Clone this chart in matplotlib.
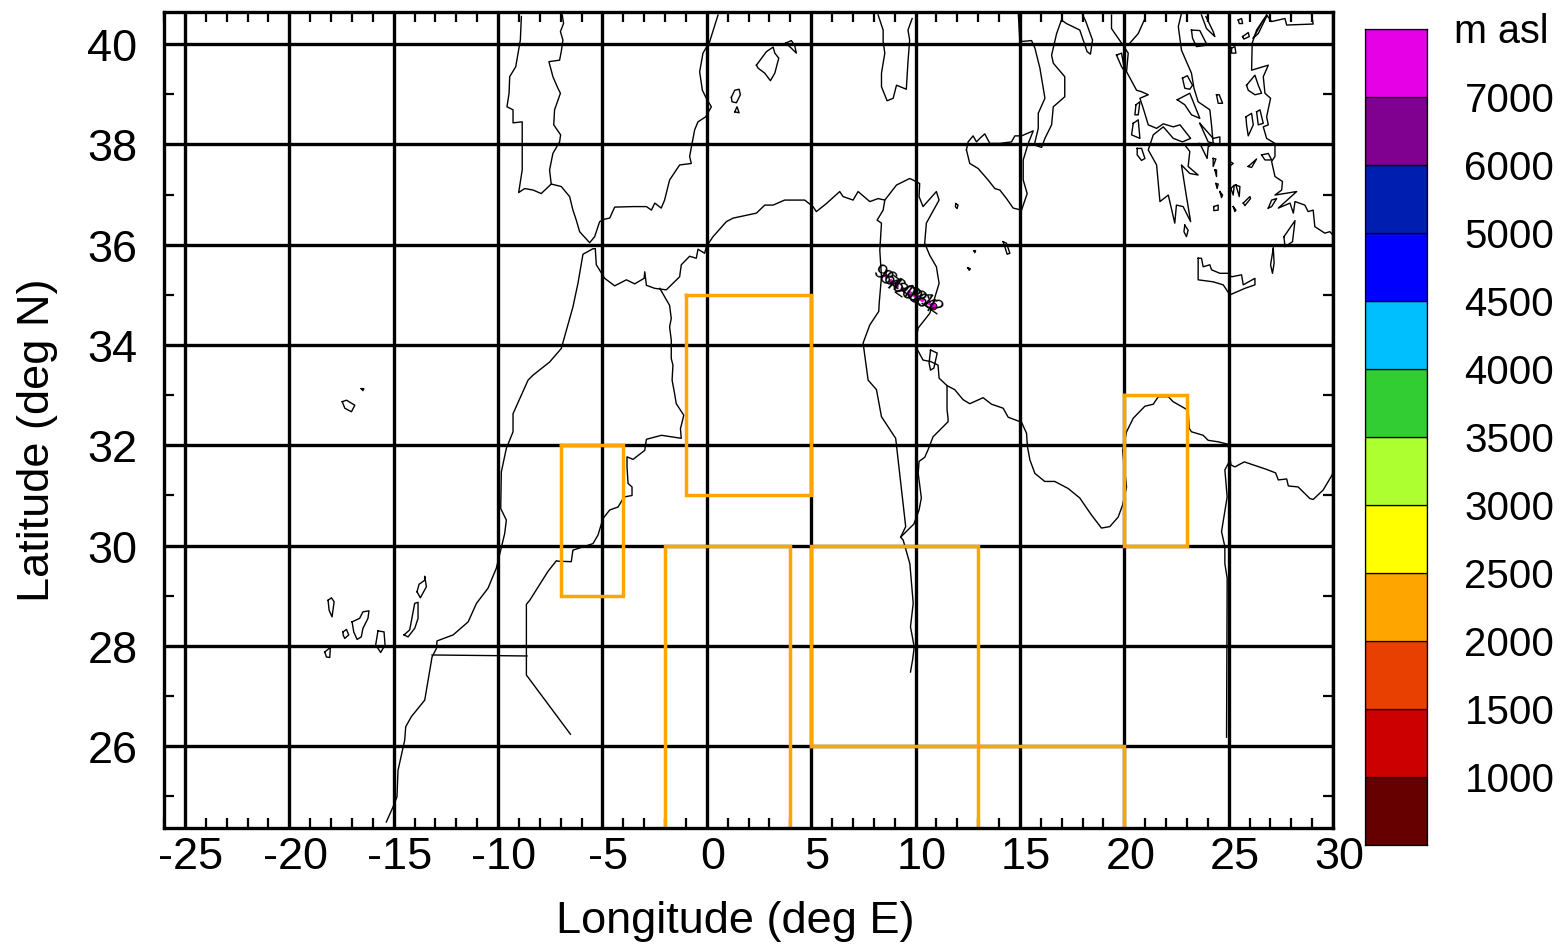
import numpy as np
import matplotlib
matplotlib.use("Agg")
import matplotlib.pyplot as plt
from matplotlib.transforms import ScaledTranslation

plt.rcParams['font.family'] = ['Liberation Sans', 'DejaVu Sans']
plt.rcParams['axes.unicode_minus'] = False

# ---- open coast and border lines (lon, lat) ----
iberia = [(-8.88,40.55),(-8.93,40.08),(-9.15,39.55),(-9.44,39.35),(-9.47,39.02),(-9.57,38.75),(-9.28,38.69),(-9.28,38.43),(-8.84,38.45),(-8.84,38.02),(-8.84,37.49),(-9.01,37.04),(-8.72,37.12),(-8.32,37.09),(-7.93,37.02),(-7.45,37.21),(-6.97,37.16),(-6.57,36.96),(-6.41,36.69),(-6.25,36.49),(-6.09,36.26),(-5.61,36.04),(-5.37,36.16),(-5.13,36.46),(-4.89,36.51),(-4.65,36.53),(-4.41,36.75),(-3.53,36.76),(-2.89,36.76),(-2.65,36.69),(-2.49,36.83),(-2.18,36.73),(-2.02,36.89),(-1.78,37.29),(-1.30,37.59),(-0.74,37.62),(-0.82,37.76),(-0.58,38.29),(-0.42,38.45),(-0.05,38.55),(0.22,38.75),(-0.02,38.92),(-0.21,39.08),(-0.34,39.45),(-0.18,39.82),(0.14,40.05),(0.54,40.58)]
portugal_border = [(-6.92,40.58),(-6.86,40.41),(-7.01,40.25),(-6.89,40.08),(-6.97,39.85),(-7.05,39.68),(-7.56,39.65),(-7.37,39.35),(-7.13,39.12),(-7.01,39.02),(-7.29,38.69),(-7.33,38.39),(-7.00,38.19),(-7.05,38.05),(-7.37,37.82),(-7.53,37.49),(-7.45,37.21)]
africa_atlantic = [(-15.35,24.49),(-15.03,24.79),(-14.84,24.99),(-14.79,25.52),(-14.47,26.12),(-14.42,26.39),(-14.15,26.59),(-13.51,26.92),(-13.16,27.78),(-12.95,27.95),(-12.92,28.10),(-12.15,28.22),(-11.43,28.48),(-11.03,28.85),(-10.48,29.15),(-10.08,29.55),(-9.68,30.24),(-9.60,30.51),(-9.87,30.74),(-9.84,31.47),(-9.60,31.94),(-9.28,32.27),(-9.28,32.63),(-8.56,33.30),(-8.32,33.40),(-7.53,33.66),(-6.97,33.93),(-6.41,34.76),(-6.17,35.23),(-5.93,35.81),(-5.45,35.92),(-5.34,35.92)]
africa_med = [(-5.34,35.92),(-5.29,35.60),(-4.89,35.33),(-4.41,35.18),(-3.85,35.30),(-3.45,35.22),(-3.00,35.33),(-2.97,35.46),(-2.89,35.19),(-2.49,35.13),(-1.94,35.10),(-1.30,35.36),(-1.22,35.60),(-0.82,35.77),(-0.50,35.73),(-0.42,35.91),(-0.10,35.83),(-0.02,35.96),(0.30,36.16),(0.94,36.46),(1.26,36.53),(2.38,36.63),(2.78,36.79),(3.18,36.79),(3.73,36.89),(4.69,36.89),(5.09,36.76),(5.25,36.66),(5.73,36.82),(6.37,37.06),(6.53,36.96),(7.01,36.89),(7.25,37.06),(7.81,36.86),(8.21,36.92),(8.53,36.89),(9.09,37.19),(9.72,37.32),(9.88,37.29),(10.20,37.22),(10.17,36.96),(10.36,36.76),(11.00,37.06),(11.13,36.89),(10.52,36.43),(10.44,36.03),(10.68,35.79),(11.00,35.56),(11.13,35.23),(10.84,34.83),(10.68,34.63),(10.13,34.34),(10.05,34.17),(10.05,33.94),(10.36,33.70),(10.73,33.67),(11.08,33.60),(11.13,33.34),(11.51,33.19),(11.88,33.11),(12.28,32.91),(12.60,32.83),(13.24,32.95),(13.64,32.82),(14.20,32.74),(14.44,32.56),(15.08,32.46),(15.32,32.24),(15.36,31.98),(15.48,31.71),(15.72,31.44),(16.19,31.28),(16.67,31.28),(17.31,31.14),(17.87,30.95),(18.43,30.61),(18.91,30.35),(19.31,30.38),(19.71,30.57),(19.92,30.81),(20.11,31.17),(20.00,31.57),(19.92,31.90),(20.11,32.27),(20.43,32.54),(20.99,32.78),(21.39,32.82),(21.63,32.97),(22.11,32.97),(22.34,32.87),(23.06,32.70),(23.11,32.34),(23.22,32.27),(23.78,32.20),(24.02,32.10),(24.50,32.07),(24.98,32.02),(25.11,31.61),(25.30,31.57),(25.75,31.67),(26.82,31.52),(27.25,31.45),(27.38,31.31),(27.78,31.33),(27.86,31.19),(28.33,31.17),(28.89,30.94),(29.05,30.92),(29.53,31.11),(29.93,31.39),(30.0,31.45)]
algeria_tunisia = [(8.53,36.89),(8.45,36.69),(8.16,36.49),(8.37,36.43),(8.29,35.89),(8.37,35.36),(8.26,34.83),(8.24,34.67),(7.81,34.40),(7.49,34.04),(7.73,33.30),(8.13,33.11),(8.37,32.57),(9.05,32.14),(9.53,30.38),(9.29,30.17),(9.41,30.11),(9.73,29.64),(9.89,28.85),(9.76,28.38),(9.94,27.98),(9.86,27.72),(9.76,27.48)]
tunisia_libya = [(11.51,33.19),(11.51,32.71),(11.56,32.54),(11.56,32.47),(10.84,32.17),(10.60,31.91),(10.44,31.76),(10.17,31.68),(10.13,31.44),(10.28,30.95),(10.17,30.71),(9.92,30.43),(9.29,30.17)]
libya_egypt = [(24.98,32.02),(25.06,31.70),(24.82,31.51),(24.93,30.97),(24.66,30.28),(24.82,29.98),(24.82,29.64),(24.93,29.35),(24.90,26.18)]
morocco_algeria = [(-2.25,35.13),(-1.78,34.79),(-1.70,34.53),(-1.78,34.36),(-1.70,34.10),(-1.70,33.73),(-1.62,33.60),(-1.66,33.30),(-1.54,33.03),(-1.46,32.83),(-1.10,32.60),(-1.26,32.33),(-1.22,32.14),(-2.17,32.20),(-2.89,32.12),(-2.97,31.90),(-3.53,31.72),(-3.82,31.77),(-3.82,31.57),(-3.77,31.24),(-3.58,31.17),(-3.58,31.00),(-3.96,30.97),(-4.25,30.77),(-4.65,30.71),(-4.97,30.54),(-5.21,30.21),(-5.45,30.04),(-6.41,29.91),(-6.49,29.68),(-7.13,29.69),(-7.20,29.70),(-7.60,29.49),(-7.92,29.28),(-8.48,28.91),(-8.64,28.83),(-8.64,27.42),(-6.53,26.24)]
sahara_border = [(-13.16,27.82),(-8.61,27.80)]
sardinia = [(8.21,40.58),(8.45,40.28),(8.45,40.05),(8.53,39.82),(8.37,39.42),(8.37,39.15),(8.64,38.87),(8.93,38.92),(9.09,39.18),(9.56,39.10),(9.64,39.65),(9.72,40.08),(9.64,40.28),(9.84,40.51)]
italy = [(14.92,40.64),(15.00,40.05),(15.56,40.07),(15.72,39.92),(15.96,39.52),(16.20,38.92),(15.88,38.62),(15.88,38.32),(15.69,37.99),(16.04,37.94),(16.20,38.12),(16.52,38.39),(16.60,38.75),(17.15,38.95),(17.15,39.35),(16.60,39.62),(16.52,39.78),(16.76,40.21),(16.99,40.48),(17.23,40.41),(17.87,40.28),(18.22,39.85),(18.38,39.80),(18.48,40.08),(18.16,40.45),(17.95,40.64)]
greece = [(19.39,40.58),(19.39,40.31),(19.87,40.02),(20.19,39.82),(20.11,39.45),(20.59,39.08),(20.83,39.05),(21.15,38.99),(20.75,38.92),(20.91,38.72),(21.15,38.39),(21.55,38.32),(21.87,38.41),(22.35,38.35),(22.67,38.39),(23.18,38.12),(22.79,38.05),(22.35,38.12),(21.87,38.35),(21.39,38.19),(21.15,37.89),(21.55,37.59),(21.71,36.86),(22.11,36.99),(22.42,36.43),(22.50,36.79),(22.82,36.76),(23.18,36.46),(22.98,36.96),(22.74,37.59),(23.14,37.42),(23.54,37.39),(23.06,37.56),(23.14,37.86),(22.90,37.99),(23.62,38.02),(23.97,37.72),(24.02,37.95),(24.26,38.02),(24.18,38.39),(24.10,38.69),(23.54,38.85),(23.34,39.12),(23.22,39.42),(22.74,39.88),(22.59,40.35),(22.75,40.63)]
albania_border = [(20.27,40.02),(20.67,40.21),(20.99,40.51)]
thrace = [(23.70,40.58),(23.94,40.31),(24.34,40.15),(24.26,40.25),(23.91,40.55)]
turkey = [(26.82,40.58),(26.34,40.28),(26.13,40.02),(26.10,39.48),(26.90,39.58),(26.66,39.35),(26.74,39.02),(27.01,38.92),(26.82,38.55),(26.90,38.39),(26.66,38.35),(26.82,38.12),(27.22,38.02),(27.22,37.76),(27.06,37.66),(27.22,37.36),(27.58,37.26),(27.54,37.09),(27.22,36.99),(28.26,37.06),(27.38,36.73),(27.94,36.83),(28.10,36.63),(28.18,36.86),(28.65,36.79),(28.81,36.66),(29.05,36.69),(29.13,36.36),(29.61,36.23),(29.85,36.26),(30.0,36.19)]
marmara = [(26.82,40.58),(27.06,40.45),(27.70,40.51),(27.78,40.38),(29.05,40.40),(28.97,40.60)]

# ---- closed islands (lon, lat) ----
mallorca = [(2.38,39.58),(2.86,39.85),(3.18,39.94),(3.26,39.82),(3.45,39.72),(3.26,39.42),(3.05,39.27),(2.78,39.42),(2.46,39.52)]
menorca = [(3.78,40.02),(4.05,40.07),(4.21,39.98),(4.29,39.82),(4.05,39.92)]
ibiza = [(1.18,38.94),(1.34,39.08),(1.55,39.10),(1.61,38.99),(1.42,38.83),(1.21,38.85)]
formentera = [(1.34,38.65),(1.45,38.75),(1.55,38.63)]
sicily = [(12.44,37.89),(12.52,38.05),(12.76,38.17),(12.92,38.05),(13.08,38.12),(13.32,38.21),(13.56,38.02),(14.04,38.02),(14.60,38.05),(14.76,38.17),(15.08,38.17),(15.64,38.27),(15.40,38.02),(15.16,37.69),(15.16,37.29),(15.35,37.02),(15.08,36.69),(14.68,36.73),(14.36,36.92),(14.04,37.09),(13.80,37.12),(13.48,37.29),(13.00,37.52),(12.60,37.62)]
djerba = [(10.72,33.90),(11.04,33.84),(10.88,33.54),(10.72,33.50),(10.65,33.64)]
la_palma = [(-18.14,28.91),(-17.98,28.96),(-17.85,28.88),(-17.95,28.58),(-18.09,28.71)]
tenerife = [(-16.99,28.48),(-16.63,28.55),(-16.47,28.68),(-16.18,28.70),(-16.23,28.55),(-16.47,28.35),(-16.55,28.18),(-16.75,28.13),(-16.91,28.28)]
gomera = [(-17.42,28.28),(-17.26,28.33),(-17.15,28.22),(-17.34,28.15),(-17.42,28.22)]
gran_canaria = [(-15.75,28.30),(-15.46,28.28),(-15.41,28.02),(-15.62,27.87),(-15.86,28.02)]
hierro = [(-18.30,27.88),(-18.03,27.97),(-18.06,27.77),(-18.22,27.78)]
fuerteventura = [(-14.50,28.22),(-14.23,28.32),(-13.99,28.85),(-13.83,28.87),(-13.83,28.55),(-13.99,28.35),(-14.31,28.18)]
lanzarote = [(-13.88,29.08),(-13.78,29.23),(-13.51,29.31),(-13.51,29.39),(-13.43,29.18),(-13.72,28.96)]
madeira = [(-17.46,32.87),(-17.26,32.90),(-16.86,32.80),(-17.02,32.67),(-17.34,32.74)]
porto_santo = [(-16.55,33.13),(-16.43,33.13),(-16.47,33.09)]
crete = [(23.54,35.73),(23.70,35.73),(23.78,35.56),(24.10,35.60),(24.18,35.50),(24.58,35.43),(24.98,35.43),(25.14,35.36),(25.62,35.40),(25.70,35.20),(26.26,35.33),(26.26,35.20),(25.78,35.13),(25.06,35.00),(24.74,35.20),(24.26,35.26),(23.54,35.30)]
rhodes = [(27.65,36.16),(28.18,36.48),(28.06,36.06),(27.70,35.96)]
karpathos = [(27.14,35.93),(27.01,35.60),(27.10,35.43),(27.18,35.63)]
zakynthos = [(20.62,37.92),(20.83,37.92),(20.99,37.72),(20.83,37.68),(20.62,37.79)]
kythira = [(22.90,36.39),(23.06,36.29),(22.98,36.16),(22.86,36.26)]
corfu = [(19.63,39.78),(19.87,39.82),(20.03,39.45),(19.87,39.55)]
lefkada = [(20.56,38.79),(20.75,38.85),(20.67,38.59),(20.51,38.59)]
kefalonia = [(20.43,38.42),(20.67,38.49),(20.75,38.12),(20.35,38.19)]
lesbos = [(25.86,39.18),(26.26,39.38),(26.42,39.18),(26.58,39.02),(26.26,38.99),(25.94,39.08)]
chios = [(25.83,38.55),(26.10,38.62),(26.18,38.39),(25.94,38.17),(25.86,38.39)]
oinousses = [(26.34,38.65),(26.50,38.69),(26.66,38.42),(26.42,38.39)]
skyros = [(24.42,38.99),(24.55,38.99),(24.71,38.82),(24.50,38.82)]
euboea_north = [(22.54,38.89),(23.14,39.02),(23.62,38.52),(23.22,38.59),(22.90,38.79)]
euboea_south = [(23.62,38.42),(24.26,38.12),(24.58,38.15),(24.58,37.99),(24.02,38.05)]
chalkidiki = [(23.22,40.28),(23.62,40.27),(23.97,39.98),(23.46,39.95),(23.27,40.12)]
pagasetic = [(22.79,39.32),(23.02,39.37),(23.27,39.18),(23.14,39.10),(22.90,39.12)]
malta = [(14.20,36.06),(14.36,36.03),(14.52,35.83),(14.39,35.81),(14.28,35.96)]
pantelleria = [(11.93,36.82),(12.04,36.79),(11.99,36.72),(11.91,36.76)]
linosa = [(12.80,35.88),(12.88,35.88),(12.84,35.84)]
lampedusa = [(12.50,35.54),(12.63,35.52),(12.57,35.49)]
cyclades_a = [(24.26,37.72),(24.39,37.71),(24.26,37.56)]
cyclades_b = [(24.34,37.49),(24.42,37.49),(24.42,37.36)]
cyclades_c = [(24.39,37.22),(24.50,37.21),(24.45,37.12)]
cyclades_d = [(24.58,37.06),(24.71,36.99),(24.66,36.94)]
cyclades_e = [(24.29,36.76),(24.50,36.79),(24.50,36.69),(24.29,36.68)]
cyclades_f = [(25.06,37.66),(25.22,37.62),(25.06,37.57)]
cyclades_g = [(25.11,37.12),(25.27,37.19),(25.22,36.99)]
cyclades_h = [(25.35,37.19),(25.54,37.16),(25.51,36.96)]
cyclades_i = [(25.22,36.76),(25.35,36.69),(25.30,36.66)]
cyclades_j = [(25.70,36.83),(26.02,36.96),(26.05,36.92),(25.78,36.78)]
ikaria = [(25.94,37.56),(26.34,37.71),(26.10,37.54)]
samos = [(26.58,37.79),(26.90,37.82),(27.06,37.69),(26.74,37.69)]
kos = [(26.90,36.73),(27.06,36.89),(27.30,36.92),(27.06,36.76)]
thasos = [(25.46,40.48),(25.62,40.51),(25.67,40.41),(25.51,40.41)]
imbros = [(25.67,40.15),(25.94,40.23),(25.99,40.15),(25.73,40.10)]
gallipoli = [(26.18,40.12),(26.66,40.48),(26.82,40.55),(26.42,40.21)]
lemnos = [(25.14,39.92),(25.30,39.95),(25.35,39.82),(25.14,39.82)]

open_lines = [iberia, portugal_border, africa_atlantic, africa_med, algeria_tunisia, tunisia_libya,
              libya_egypt, morocco_algeria, sahara_border, sardinia, italy, greece, albania_border,
              thrace, turkey, marmara]
islands = [mallorca, menorca, ibiza, formentera, sicily, djerba, la_palma, tenerife, gomera,
           gran_canaria, hierro, fuerteventura, lanzarote, madeira, porto_santo, crete, rhodes,
           karpathos, zakynthos, kythira, corfu, lefkada, kefalonia, lesbos, chios, oinousses,
           skyros, euboea_north, euboea_south, chalkidiki, pagasetic, malta, pantelleria, linosa,
           lampedusa, cyclades_a, cyclades_b, cyclades_c, cyclades_d, cyclades_e, cyclades_f,
           cyclades_g, cyclades_h, cyclades_i, cyclades_j, ikaria, samos, kos, thasos, imbros,
           gallipoli, lemnos]

# ---- orange source regions ----
box_a = [(-1,35),(5,35),(5,31),(-1,31),(-1,35)]
box_b = [(-7,32),(-4,32),(-4,29),(-7,29),(-7,32)]
box_c = [(-2,24),(-2,30),(4,30),(4,24)]
box_d = [(5,26),(5,30),(13,30),(13,24)]
box_e = [(5,26),(20,26),(20,24)]
box_f = [(20,33),(23,33),(23,30),(20,30),(20,33)]
regions = [box_a, box_b, box_c, box_d, box_e, box_f]

# ---- trajectory ----
traj_lon = [8.53, 8.77, 9.10, 9.39, 9.73, 10.06, 10.40, 10.73]
traj_lat = [35.40, 35.30, 35.16, 35.12, 35.04, 34.96, 34.88, 34.82]
traj_labels = ['96', '84', '72', '60', '48', '36', '24', '12']

# ---- colour scale ----
scale_levels = ['', '1000', '1500', '2000', '2500', '3000', '3500', '4000', '4500', '5000', '6000', '7000', '']
scale_colors = ['#660000', '#cc0000', '#e84000', '#ffa500', '#ffff00', '#adff2f', '#32cd32',
                '#00bfff', '#0000ff', '#001eb0', '#800090', '#e600e6']

x_major = [-25, -20, -15, -10, -5, 0, 5, 10, 15, 20, 25, 30]
y_major = [26, 28, 30, 32, 34, 36, 38, 40]
x_minor = [v for v in range(-26, 30) if v % 5 != 0]
y_minor = [25, 27, 29, 31, 33, 35, 37, 39]

W, H = 1562, 945
fig = plt.figure(figsize=(W / 100, H / 100), dpi=100)
ax = fig.add_axes([164 / W, 1 - 829 / H, (1333 - 164) / W, (829 - 13) / H])
ax.set_xlim(-26, 30)
ax.set_ylim(24.37, 40.64)

ax.set_xticks(x_major)
ax.set_yticks(y_major)
ax.set_xticks(x_minor, minor=True)
ax.set_yticks(y_minor, minor=True)
ax.grid(True, which='major', color='black', lw=2.4, zorder=2)
ax.set_axisbelow(False)
ax.tick_params(which='major', length=0, labelsize=32.5, pad=6)
ax.tick_params(axis='y', which='major', pad=19)
ax.tick_params(which='minor', direction='in', length=7, width=1.6, top=True, right=True,
               bottom=True, left=True)
for s in ax.spines.values():
    s.set_linewidth(2.4)
    s.set_zorder(6)
shift = ScaledTranslation(6 / 100, 0, fig.dpi_scale_trans)
for lab in ax.get_xticklabels():
    lab.set_transform(lab.get_transform() + shift)

ax.set_xlabel('Longitude (deg E)', fontsize=32.5, va='center')
ax.xaxis.set_label_coords((735 - 164) / 1169, -(922 - 829) / 816)
ax.set_ylabel('Latitude (deg N)', fontsize=32.5, va='center')
ax.yaxis.set_label_coords((38 - 164) / 1169, (829 - 440) / 816)

for line in open_lines:
    xs, ys = zip(*line)
    ax.plot(xs, ys, color='black', lw=1.0, zorder=3, solid_joinstyle='round')
for isl in islands:
    xs, ys = zip(*(isl + isl[:1]))
    ax.plot(xs, ys, color='black', lw=1.0, zorder=3, solid_joinstyle='round')

for reg in regions:
    xs, ys = zip(*reg)
    ax.plot(xs, ys, color='#ffa500', lw=2.5, zorder=4, solid_joinstyle='miter')

ax.plot(traj_lon, traj_lat, color='#e600e6', lw=2.6, ls=(0, (1.2, 0.8)), zorder=5)
ax.plot(traj_lon[-1] + 0.12, traj_lat[-1] - 0.04, 'o', ms=5, mfc='#e600e6', mec='black', mew=0.6, zorder=5)
for x, y, t in zip(traj_lon, traj_lat, traj_labels):
    ax.text(x, y, t, fontsize=15, rotation=-35, ha='center', va='center', color='black', zorder=5.5)

# colour bar
cax = fig.add_axes([1365 / W, 1 - 846 / H, 62 / W, 816 / H])
edges = np.arange(len(scale_colors) + 1)
for i, c in enumerate(scale_colors):
    cax.bar(0, 1, bottom=edges[i], width=1, color=c, edgecolor='black', linewidth=0.9, align='edge')
cax.set_xlim(0, 1)
cax.set_ylim(0, len(scale_colors))
cax.set_xticks([])
cax.yaxis.tick_right()
cax.set_yticks(edges)
cax.set_yticklabels(scale_levels, fontsize=29)
cax.tick_params(axis='y', length=0, pad=27)
up = ScaledTranslation(0, 1.5 / 100, fig.dpi_scale_trans)
for lab in cax.get_yticklabels():
    lab.set_transform(lab.get_transform() + up)
for s in cax.spines.values():
    s.set_linewidth(0.9)
fig.text(1454 / W, 1 - 32 / H, 'm asl', fontsize=28.5, ha='left', va='center')

fig.savefig('out.png', dpi=100)
